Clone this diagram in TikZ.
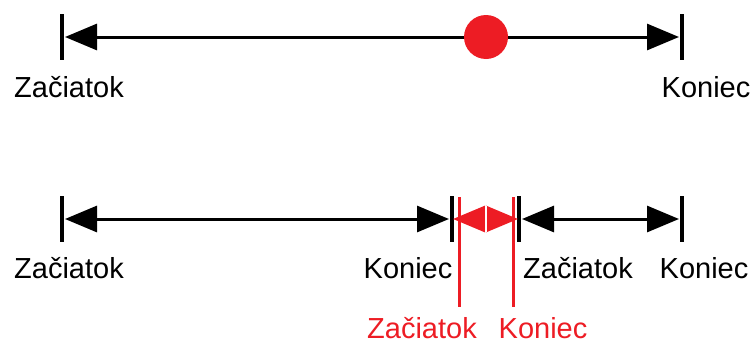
\documentclass[tikz,border=0pt]{standalone}
\usepackage{fontspec}
\setmainfont{Liberation Sans}
\usetikzlibrary{arrows.meta}
\definecolor{cervena}{RGB}{237,28,36}
\begin{document}
\begin{tikzpicture}[x=1pt,y=-1pt,
    >={Triangle[length=32pt,width=26pt]},
    usecka/.style={line width=3pt,<->},
    znacka/.style={line width=4pt},
    popis/.style={anchor=base,inner sep=0pt,font=\fontsize{29}{34}\selectfont}]
    \useasboundingbox (0,0) rectangle (752,343);
    % horna usecka
    \coordinate (z1) at (62,37);
    \coordinate (k1) at (682,37);
    \draw[znacka] ([yshift=23pt]z1) -- ([yshift=-23pt]z1);
    \draw[znacka] ([yshift=23pt]k1) -- ([yshift=-23pt]k1);
    \draw[usecka] ([xshift=3pt]z1) -- ([xshift=-3pt]k1);
    \node (bod) [circle,fill=cervena,minimum size=44pt,inner sep=0pt] at (486,37) {};
    \node (tz1) [popis] at (69,97) {Začiatok};
    \node (tk1) [popis] at (706,97) {Koniec};
    % dolna usecka
    \coordinate (z2) at (62,219);
    \coordinate (k2) at (452,219);
    \coordinate (z3) at (519,219);
    \coordinate (k3) at (682,219);
    \coordinate (stred) at (486,219);
    \coordinate (cz) at (459,219);
    \coordinate (ck) at (513,219);
    \foreach \b in {z2,k2,z3,k3}
        \draw[znacka] ([yshift=23pt]\b) -- ([yshift=-23pt]\b);
    \draw[usecka] ([xshift=3pt]z2) -- ([xshift=-3pt]k2);
    \draw[usecka] ([xshift=3pt]z3) -- ([xshift=-3pt]k3);
    \draw[cervena,line width=3pt] ([yshift=22pt]cz) -- ([yshift=-88pt]cz);
    \draw[cervena,line width=3pt] ([yshift=22pt]ck) -- ([yshift=-88pt]ck);
    \draw[cervena,line width=3pt,->] (stred) -- ([xshift=1pt]k2);
    \draw[cervena,line width=3pt,->] (stred) -- ([xshift=-1pt]z3);
    \draw[white,line width=1.5pt] ([yshift=13pt]stred) -- ([yshift=-13pt]stred);
    \node (tz2) [popis] at (69,278) {Začiatok};
    \node (tk2) [popis] at (408,278) {Koniec};
    \node (tz3) [popis] at (578,278) {Začiatok};
    \node (tk3) [popis] at (704,278) {Koniec};
    \node (tcz) [popis,text=cervena] at (422,338) {Začiatok};
    \node (tck) [popis,text=cervena] at (543,338) {Koniec};
\end{tikzpicture}
\end{document}
